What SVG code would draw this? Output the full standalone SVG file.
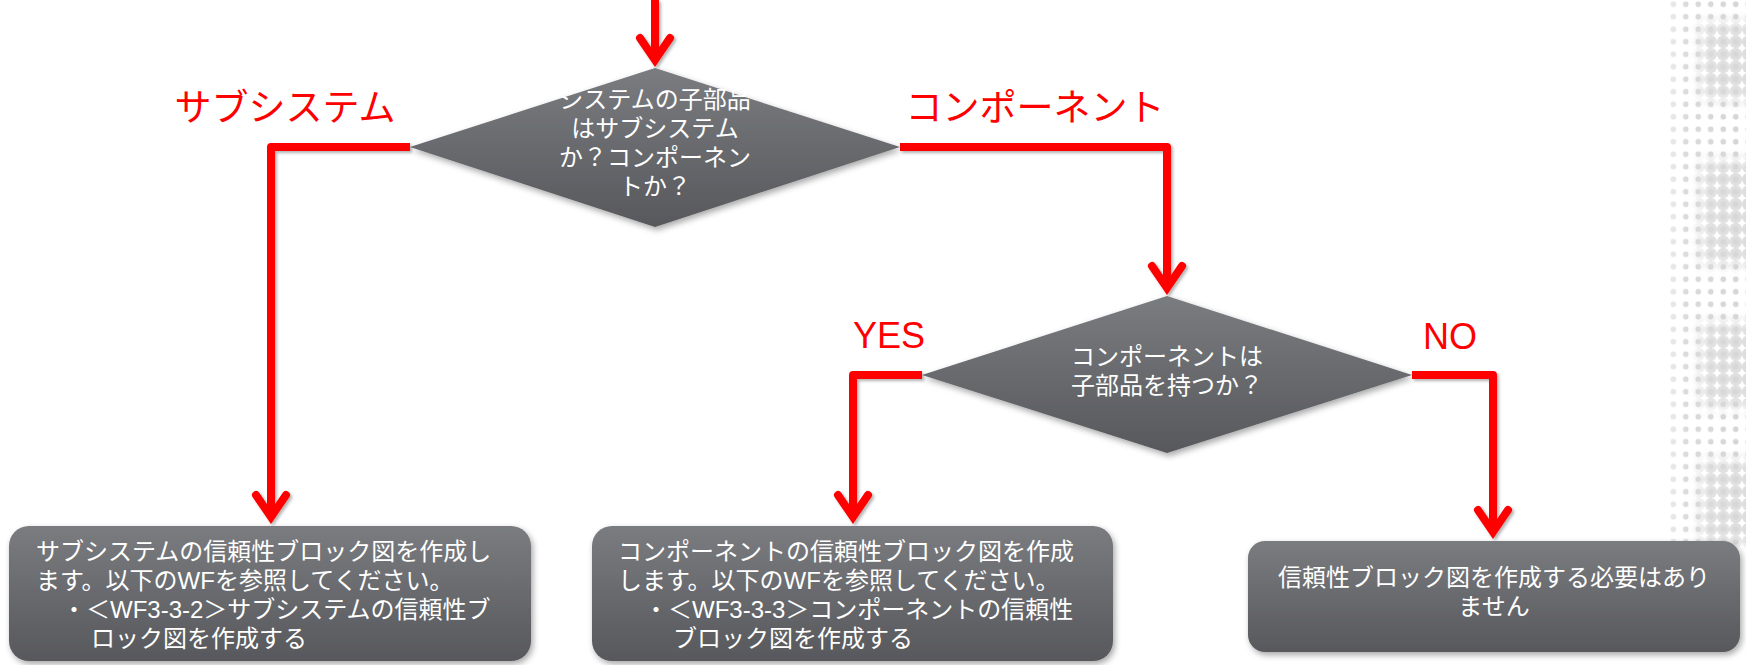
<svg xmlns="http://www.w3.org/2000/svg" width="1746" height="665" viewBox="0 0 1746 665">
<defs>
<style>
text{font-family:'Liberation Sans','Noto Sans CJK JP',sans-serif;}
.shape{fill:url(#g);filter:url(#sh);}
.t{fill:#ffffff;font-size:24px;}
.c{text-anchor:middle;}
.lbl{fill:#ff0000;font-size:37px;}
.lbl2{fill:#ff0000;font-size:36px;}
.ln{fill:none;stroke:#ff0000;stroke-width:8;stroke-linejoin:round;marker-end:url(#ah);}
.band{fill:#ffffff;filter:url(#blur);}
</style>
<linearGradient id="g" x1="0" y1="0" x2="0" y2="1">
<stop offset="0" stop-color="#7a7c80"/>
<stop offset="1" stop-color="#57585c"/>
</linearGradient>
<linearGradient id="fade" x1="0" y1="0" x2="1" y2="0">
<stop offset="0" stop-color="#fff" stop-opacity="0.3"/>
<stop offset="0.3" stop-color="#fff" stop-opacity="0.85"/>
<stop offset="1" stop-color="#fff" stop-opacity="1"/>
</linearGradient>
<filter id="blur" x="-50%" y="-50%" width="200%" height="200%">
<feGaussianBlur stdDeviation="7"/>
</filter>
<mask id="fm" maskUnits="userSpaceOnUse" x="1660" y="0" width="86" height="560">
<rect x="1660" y="0" width="86" height="560" fill="url(#fade)"/>
</mask>
<mask id="bm" maskUnits="userSpaceOnUse" x="1660" y="0" width="86" height="560">
<rect class="band" x="1700" y="22" width="60" height="78"/>
<rect class="band" x="1700" y="160" width="60" height="105"/>
<rect class="band" x="1700" y="322" width="60" height="85"/>
<rect class="band" x="1700" y="460" width="60" height="85"/>
</mask>
<filter id="sh" x="-10%" y="-10%" width="130%" height="140%">
<feDropShadow dx="2" dy="3" stdDeviation="3" flood-color="#000" flood-opacity="0.35"/>
</filter>
<filter id="lsh" x="-10%" y="-10%" width="130%" height="130%">
<feDropShadow dx="2" dy="2" stdDeviation="1.5" flood-color="#000" flood-opacity="0.3"/>
</filter>
<pattern id="dots" width="12.5" height="12.5" patternUnits="userSpaceOnUse" x="1667" y="-2">
<circle cx="6.25" cy="6.25" r="2.8" fill="#d4d4d4"/>
</pattern>
<pattern id="big" width="12.5" height="12.5" patternUnits="userSpaceOnUse" x="1667" y="-2">
<circle cx="6.25" cy="6.25" r="6.3" fill="#dedede"/>
<circle cx="6.25" cy="6.25" r="3" fill="#d6d6d6"/>
</pattern>
<marker id="ah" markerUnits="userSpaceOnUse" orient="auto" markerWidth="60" markerHeight="60" viewBox="-30 -30 60 60" refX="0" refY="0" overflow="visible">
<path d="M-20,-15 L2,0 L-20,15" fill="none" stroke="#ff0000" stroke-width="8" stroke-linecap="round" stroke-linejoin="miter"/>
</marker>
</defs>
<rect width="1746" height="665" fill="#ffffff"/>
<g id="background-dots" mask="url(#fm)">
<rect x="1667" y="0" width="79" height="548" fill="url(#dots)"/>
<rect x="1667" y="0" width="79" height="548" fill="url(#big)" mask="url(#bm)"/>
</g>
<g id="connectors" filter="url(#lsh)">
<path class="ln" d="M655,0 V58"/>
<path class="ln" d="M410,147 H271 V515"/>
<path class="ln" d="M900,147 H1167 V286"/>
<path class="ln" d="M922,375 H853 V515"/>
<path class="ln" d="M1412,375 H1493 V530"/>
</g>
<g id="labels">
<text class="lbl c" x="285" y="121">サブシステム</text>
<text class="lbl c" x="1035" y="121">コンポーネント</text>
<text class="lbl2" x="853" y="348">YES</text>
<text class="lbl2" x="1423" y="349">NO</text>
</g>
<g id="decision1">
<polygon class="shape" points="655,68 900,147 655,227 410,147"/>
<text class="t c" x="655" y="108">システムの子部品</text>
<text class="t c" x="655" y="137">はサブシステム</text>
<text class="t c" x="655" y="166">か？コンポーネン</text>
<text class="t c" x="655" y="195">トか？</text>
</g>
<g id="decision2">
<polygon class="shape" points="1167,296 1412,375 1167,453 922,375"/>
<text class="t c" x="1167" y="365">コンポーネントは</text>
<text class="t c" x="1167" y="394">子部品を持つか？</text>
</g>
<g id="subsystem-box">
<rect class="shape" x="9" y="526" width="522" height="135" rx="20"/>
<text class="t" x="36" y="560">サブシステムの信頼性ブロック図を作成し</text>
<text class="t" x="36" y="589">ます。以下のWFを参照してください。</text>
<text class="t" x="62" y="618">・＜WF3-3-2＞サブシステムの信頼性ブ</text>
<text class="t" x="91" y="647">ロック図を作成する</text>
</g>
<g id="component-box">
<rect class="shape" x="592" y="526" width="521" height="135" rx="20"/>
<text class="t" x="618" y="560">コンポーネントの信頼性ブロック図を作成</text>
<text class="t" x="618" y="589">します。以下のWFを参照してください。</text>
<text class="t" x="644" y="618">・＜WF3-3-3＞コンポーネントの信頼性</text>
<text class="t" x="673" y="647">ブロック図を作成する</text>
</g>
<g id="no-box">
<rect class="shape" x="1248" y="541" width="492" height="111" rx="17"/>
<text class="t c" x="1494" y="586">信頼性ブロック図を作成する必要はあり</text>
<text class="t c" x="1494" y="615">ません</text>
</g>
</svg>
